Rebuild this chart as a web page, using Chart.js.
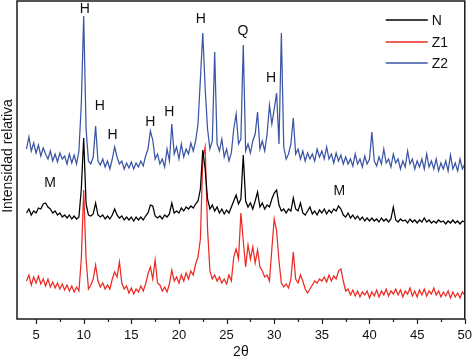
<!DOCTYPE html>
<html>
<head>
<meta charset="utf-8">
<script src="https://cdn.jsdelivr.net/npm/chart.js@4/dist/chart.umd.min.js"></script>
<style>
  html, body { margin: 0; padding: 0; background: #fff; }
  #wrap { width: 472px; height: 362px; }
</style>
</head>
<body>
<div id="wrap"><canvas id="xrdChart" width="472" height="362"></canvas></div>
<script>
// Barrido 2θ: de 4° a 50° cada 0,25°
const thetaStart = 4;
const thetaStep = 0.25;

// Intensidades (una fila por grado: .00 .25 .50 .75)
const serieN = [
  106, 110, 104, 108,
  106, 111, 110, 115,
  116, 112, 110, 106,
  108, 104, 106, 102,
  104, 101, 104, 100,
  103, 100, 102, 130,
  181, 115, 104, 103,
  105, 116, 104, 102,
  104, 100, 103, 100,
  104, 110, 104, 101,
  103, 99, 102, 99,
  102, 98, 102, 99,
  102, 99, 103, 106,
  114, 113, 103, 101,
  103, 100, 104, 102,
  105, 116, 106, 108,
  106, 111, 108, 112,
  110, 113, 111, 115,
  118, 130, 169, 150,
  120, 110, 114, 108,
  112, 106, 110, 105,
  109, 106, 112, 118,
  124, 115, 120, 164,
  118, 112, 116, 110,
  118, 127, 112, 116,
  110, 114, 112, 120,
  126, 129, 114, 108,
  110, 106, 110, 108,
  121, 110, 108, 116,
  106, 104, 108, 112,
  105, 108, 104, 109,
  106, 110, 105, 109,
  106, 110, 108, 113,
  110, 104, 102, 106,
  101, 104, 100, 103,
  99, 102, 98, 101,
  98, 101, 98, 100,
  97, 101, 98, 100,
  97, 100, 112, 99,
  97, 100, 98, 99,
  96, 100, 97, 99,
  96, 99, 97, 101,
  97, 99, 96, 98,
  96, 99, 97, 98,
  95, 98, 96, 99,
  96, 98, 95, 98,
  97
];

const serieZ1 = [
  38, 44, 34, 42,
  36, 43, 35, 40,
  33, 40, 32, 37,
  31, 36, 30, 35,
  29, 34, 28, 33,
  27, 32, 28, 60,
  129, 60, 30, 34,
  40, 54, 38, 32,
  36, 30, 34, 30,
  40, 47, 42, 57,
  36, 30, 33, 26,
  31, 25, 30, 27,
  33, 28, 35, 45,
  52, 40, 59, 36,
  34, 28, 32, 27,
  35, 49, 38, 42,
  36, 44, 38, 46,
  40, 48, 44, 55,
  62, 80, 160, 172,
  90, 48, 40, 44,
  38, 42, 36, 40,
  35, 44, 38, 62,
  70, 60, 106, 78,
  52, 74, 60, 72,
  56, 69, 52, 48,
  42, 44, 38, 70,
  100, 88, 58, 36,
  32, 35, 31, 40,
  67, 40, 36, 44,
  38, 30, 26, 30,
  34, 38, 36, 40,
  38, 42, 37, 44,
  38, 43, 40, 48,
  50, 38, 28, 30,
  24, 29, 23, 28,
  22, 27, 24, 28,
  21, 27, 23, 29,
  22, 28, 24, 30,
  23, 28, 25, 30,
  24, 29, 22, 28,
  25, 31, 23, 28,
  22, 29, 24, 30,
  23, 28, 25, 31,
  24, 28, 22, 27,
  23, 28, 21, 27,
  22, 26, 21, 27,
  24
];

const serieZ2 = [
  170, 182, 168, 176,
  166, 174, 163, 171,
  165, 160, 168, 158,
  165, 157, 166, 160,
  163, 155, 165, 156,
  164, 155, 168, 215,
  303, 190, 158, 155,
  162, 193, 158, 154,
  160, 152, 158, 150,
  160, 172, 162, 155,
  158, 150, 156, 151,
  157, 150, 156, 152,
  158, 153, 163, 170,
  188, 179, 160, 165,
  155, 160, 152, 170,
  158, 195, 165, 172,
  160, 175, 162, 170,
  165, 176, 168, 178,
  195, 240, 286, 231,
  190, 170, 178, 267,
  175, 168, 180, 162,
  170, 158, 166, 190,
  205, 175, 180, 274,
  168, 175, 166, 178,
  185, 207, 170, 178,
  168, 185, 214, 195,
  210, 226, 175, 286,
  172, 160, 165, 175,
  201, 165, 170, 160,
  168, 158, 166, 160,
  165, 158, 170, 162,
  168, 160, 172, 160,
  165, 156, 166, 158,
  164, 155, 162, 155,
  160, 153, 165, 155,
  160, 152, 163, 155,
  160, 187, 158, 153,
  162, 155, 170, 156,
  160, 152, 165, 156,
  160, 150, 158, 152,
  168, 155, 160, 150,
  158, 152, 160, 150,
  165, 152, 158, 150,
  160, 148, 156, 150,
  158, 148, 164, 150,
  156, 148, 160, 150,
  155
];

const seriesNames = ["N", "Z1", "Z2"];
const seriesColors = ["#000000", "#ee2a24", "#3b55a5"];

// Eje x
const xMajorTicks = [5, 10, 15, 20, 25, 30, 35, 40, 45, 50];
const xMinorTicks = [7.5, 12.5, 17.5, 22.5, 27.5, 32.5, 37.5, 42.5, 47.5];

// Etiquetas de fases sobre los picos
const markLabels = ["H", "H", "H", "H", "H", "H", "Q", "H", "M", "M"];
const markTheta = [10.12, 11.68, 13.04, 16.98, 18.99, 22.3, 26.72, 29.67, 6.46, 36.84];
const markLevel = [310, 213, 184, 197, 207, 300, 288, 241, 136, 128];

const fontFamily = "'Liberation Sans', Arial, sans-serif";

function toPoints(values) {
    return values.map((v, i) => ({ x: thetaStart + i * thetaStep, y: v }));
}

const allSeries = [serieN, serieZ1, serieZ2];

// marco, marcas del eje, etiquetas, leyenda y título del eje y
const decorPlugin = {
    id: "decor",
    afterDraw(chart) {
        const ctx = chart.ctx;
        const area = chart.chartArea;
        const xs = chart.scales.x;
        const ys = chart.scales.y;
        ctx.save();

        ctx.strokeStyle = "#1a1a1a";
        ctx.lineWidth = 1.5;
        ctx.strokeRect(area.left, area.top, area.right - area.left, area.bottom - area.top);

        ctx.lineWidth = 1.2;
        ctx.beginPath();
        xMajorTicks.forEach(t => {
            const px = Math.round(xs.getPixelForValue(t)) + 0.5;
            ctx.moveTo(px, area.bottom);
            ctx.lineTo(px, area.bottom + 5);
        });
        xMinorTicks.forEach(t => {
            const px = Math.round(xs.getPixelForValue(t)) + 0.5;
            ctx.moveTo(px, area.bottom);
            ctx.lineTo(px, area.bottom + 3);
        });
        ctx.stroke();

        ctx.fillStyle = "#111";
        ctx.font = "14px " + fontFamily;
        ctx.textAlign = "center";
        ctx.textBaseline = "middle";
        markLabels.forEach((lab, i) => {
            ctx.fillText(lab, xs.getPixelForValue(markTheta[i]), ys.getPixelForValue(markLevel[i]));
        });

        // leyenda
        const legendY = [20, 42, 63];
        ctx.textAlign = "left";
        seriesNames.forEach((name, i) => {
            ctx.strokeStyle = seriesColors[i];
            ctx.lineWidth = 1.5;
            ctx.beginPath();
            ctx.moveTo(area.right - 79, legendY[i]);
            ctx.lineTo(area.right - 37, legendY[i]);
            ctx.stroke();
            ctx.fillStyle = "#111";
            ctx.fillText(name, area.right - 33, legendY[i] + 1);
        });

        // título del eje y
        ctx.translate(8, (area.top + area.bottom) / 2 - 4);
        ctx.rotate(-Math.PI / 2);
        ctx.textAlign = "center";
        ctx.fillText("Intensidad relativa", 0, 0);
        ctx.restore();
    }
};

const ctx = document.getElementById("xrdChart").getContext("2d");
new Chart(ctx, {
    type: "line",
    data: {
        datasets: allSeries.map((s, i) => ({
            label: seriesNames[i],
            data: toPoints(s),
            borderColor: seriesColors[i],
            borderWidth: 1.25,
            pointRadius: 0,
            tension: 0,
            fill: false
        }))
    },
    options: {
        responsive: false,
        animation: false,
        layout: {
            autoPadding: false,
            padding: { left: 17, top: 1, right: 5, bottom: 0 }
        },
        plugins: {
            legend: { display: false },
            tooltip: { enabled: false }
        },
        scales: {
            x: {
                type: "linear",
                min: 3,
                max: 50,
                afterBuildTicks: scale => {
                    scale.ticks = xMajorTicks.map(v => ({ value: v }));
                },
                border: { display: false },
                grid: {
                    display: true,
                    drawOnChartArea: false,
                    drawTicks: true,
                    tickLength: 9,
                    color: "rgba(0,0,0,0)"
                },
                ticks: {
                    padding: 0,
                    maxRotation: 0,
                    color: "#111",
                    font: { family: fontFamily, size: 13 }
                },
                title: {
                    display: true,
                    text: "2θ",
                    color: "#111",
                    font: { family: fontFamily, size: 14 },
                    padding: { top: 0, bottom: 1.6 }
                }
            },
            y: {
                display: false,
                min: 0,
                max: 318
            }
        }
    },
    plugins: [decorPlugin]
});
</script>
</body>
</html>
